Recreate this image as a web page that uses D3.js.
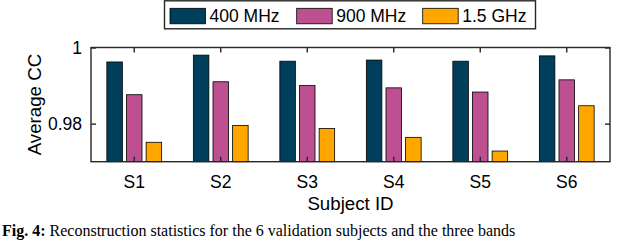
<!DOCTYPE html>
<html>
<head>
<meta charset="utf-8">
<script src="https://cdn.jsdelivr.net/npm/d3@7"></script>
<style>
  html, body { margin: 0; padding: 0; background: #fff; }
  svg { display: block; }
  text { font-family: "Liberation Sans", Arial, Helvetica, sans-serif; fill: #000; }
</style>
</head>
<body>
<svg id="chart" width="640" height="240"></svg>
<script>
// ---- data ----
const categories = ["S1", "S2", "S3", "S4", "S5", "S6"];
const seriesNames = ["400 MHz", "900 MHz", "1.5 GHz"];
const seriesColors = ["#003f5c", "#bc5090", "#ffa600"];
const values400 = [0.9962, 0.9980, 0.9964, 0.9967, 0.9964, 0.9978];
const values900 = [0.9876, 0.9910, 0.9900, 0.9894, 0.9883, 0.9915];
const values1500 = [0.9751, 0.9795, 0.9787, 0.9764, 0.9728, 0.9847];
const yTicks = [0.98, 1];
const yTickLabels = ["0.98", "1"];
const yDomain = [0.97, 1];
const xLabel = "Subject ID";
const yLabel = "Average CC";

const seriesValues = [values400, values900, values1500];

// ---- layout ----
const svg = d3.select("#chart");
const L = 91, R = 610, T = 47.5, B = 161.7;
const axisColor = "#262626";

const x = d3.scaleBand().domain(categories).range([L, R]).padding(0);
const xi = d3.scaleBand().domain(seriesNames).range([-27.4, 27.4]).paddingInner(0.21);
const y = d3.scaleLinear().domain(yDomain).range([B, T]);

// bars
const groups = svg.append("g").selectAll("g")
  .data(categories)
  .join("g")
  .attr("transform", d => `translate(${x(d) + x.bandwidth() / 2},0)`);

groups.selectAll("rect")
  .data((c, ci) => seriesNames.map((s, si) => ({ s, si, v: seriesValues[si][ci] })))
  .join("rect")
  .attr("x", d => xi(d.s))
  .attr("width", xi.bandwidth())
  .attr("y", d => y(d.v))
  .attr("height", d => B - y(d.v))
  .attr("fill", d => seriesColors[d.si])
  .attr("stroke", "#000")
  .attr("stroke-width", 0.8);

// frame
svg.append("rect")
  .attr("x", L).attr("y", T)
  .attr("width", R - L).attr("height", B - T)
  .attr("fill", "none")
  .attr("stroke", axisColor)
  .attr("stroke-width", 1.4);

const tickLen = 5;
// x axis (bottom) with inward ticks
const xAxis = d3.axisBottom(x).tickSizeInner(-tickLen).tickSizeOuter(0).tickPadding(14);
const gx = svg.append("g").attr("transform", `translate(0,${B})`).call(xAxis);
gx.select(".domain").remove();
gx.selectAll(".tick line").attr("stroke", axisColor).attr("stroke-width", 1.4);
gx.selectAll(".tick text").attr("font-size", "17.5px").attr("fill", "#000")
  .attr("font-family", '"Liberation Sans", Arial, sans-serif');

// top mirror ticks
const gxt = svg.append("g").attr("transform", `translate(0,${T})`)
  .call(d3.axisTop(x).tickSizeInner(-tickLen).tickSizeOuter(0).tickFormat(""));
gxt.select(".domain").remove();
gxt.selectAll(".tick line").attr("stroke", axisColor).attr("stroke-width", 1.4);

// y axis left
const yAxis = d3.axisLeft(y).tickValues(yTicks)
  .tickFormat((d, i) => yTickLabels[i])
  .tickSizeInner(-tickLen).tickSizeOuter(0).tickPadding(9);
const gy = svg.append("g").attr("transform", `translate(${L},0)`).call(yAxis);
gy.select(".domain").remove();
gy.selectAll(".tick line").attr("stroke", axisColor).attr("stroke-width", 1.4);
gy.selectAll(".tick text").attr("font-size", "17.5px").attr("fill", "#000")
  .attr("font-family", '"Liberation Sans", Arial, sans-serif');

// y axis right mirror
const gyr = svg.append("g").attr("transform", `translate(${R},0)`)
  .call(d3.axisRight(y).tickValues(yTicks).tickSizeInner(-tickLen).tickSizeOuter(0).tickFormat(""));
gyr.select(".domain").remove();
gyr.selectAll(".tick line").attr("stroke", axisColor).attr("stroke-width", 1.4);

// axis labels
svg.append("text")
  .attr("x", (L + R) / 2).attr("y", 209.5)
  .attr("text-anchor", "middle")
  .attr("font-size", "18.7px")
  .text(xLabel);

svg.append("text")
  .attr("transform", `translate(41,${(T + B) / 2}) rotate(-90)`)
  .attr("text-anchor", "middle")
  .attr("font-size", "18.7px")
  .text(yLabel);

// legend
const leg = svg.append("g");
leg.append("rect")
  .attr("x", 164.5).attr("y", 0.8)
  .attr("width", 371).attr("height", 28)
  .attr("fill", "#fff")
  .attr("stroke", axisColor)
  .attr("stroke-width", 1.4);
const legX = [170, 296.7, 422.7];
seriesNames.forEach((s, i) => {
  leg.append("rect")
    .attr("x", legX[i]).attr("y", 8.3)
    .attr("width", 35.5).attr("height", 15.5)
    .attr("fill", seriesColors[i])
    .attr("stroke", "#000").attr("stroke-width", 0.8);
  leg.append("text")
    .attr("x", legX[i] + 39.5).attr("y", 21.5)
    .attr("font-size", "17.5px")
    .text(s);
});

// caption
const cap = svg.append("text")
  .attr("x", 2).attr("y", 236)
  .attr("font-family", '"Liberation Serif", "Times New Roman", serif')
  .attr("font-size", "16px");
cap.append("tspan").attr("font-weight", "bold").attr("font-family", '"Liberation Serif", serif').text("Fig. 4: ");
cap.append("tspan").attr("font-family", '"Liberation Serif", serif').text("Reconstruction statistics for the 6 validation subjects and the three bands");
</script>
</body>
</html>
